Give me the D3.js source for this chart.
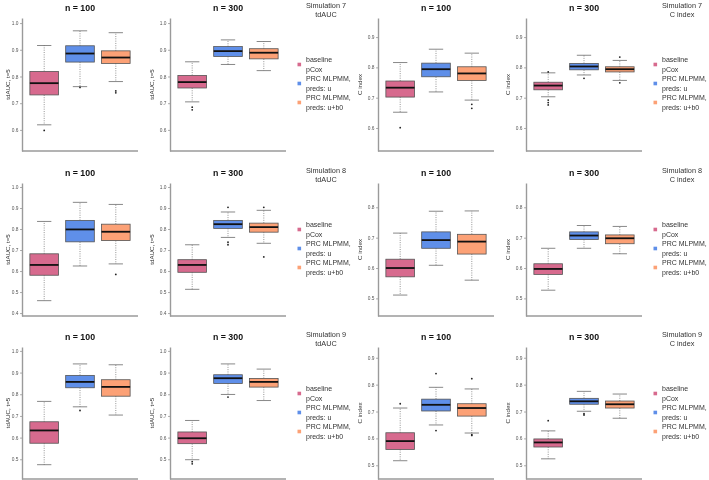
<!DOCTYPE html>
<html><head><meta charset="utf-8">
<script src="https://cdn.jsdelivr.net/npm/d3@7"></script>
<style>body{margin:0;background:#fff}svg{display:block;font-family:"Liberation Sans",Arial,sans-serif;will-change:transform}</style>
</head><body><svg width="709" height="480"></svg>
<script>
// ---------- data ----------
const simulations = ["Simulation 7", "Simulation 8", "Simulation 9"];
const metrics = ["tdAUC", "C index"];
const metricAxisLabels = ["tdAUC, t=5", "C index"];
const sampleSizes = ["n = 100", "n = 300"];
const methods = ["baseline pCox", "PRC MLPMM, preds: u", "PRC MLPMM, preds: u+b0"];
const legendLines = [["baseline", "pCox"], ["PRC MLPMM,", "preds: u"], ["PRC MLPMM,", "preds: u+b0"]];
const colors = ["#D76A8E", "#5F8FE9", "#FCA176"];

// box stats per method: [lower whisker, Q1, median, Q3, upper whisker]
const s7_td_100 = [[0.619, 0.731, 0.775, 0.819, 0.916], [0.762, 0.854, 0.886, 0.915, 0.971], [0.781, 0.849, 0.871, 0.896, 0.964]];
const s7_td_300 = [[0.705, 0.757, 0.779, 0.804, 0.855], [0.845, 0.875, 0.895, 0.912, 0.937], [0.822, 0.866, 0.889, 0.904, 0.931]];
const s7_c_100  = [[0.652, 0.702, 0.733, 0.755, 0.816], [0.719, 0.769, 0.794, 0.814, 0.860], [0.692, 0.757, 0.780, 0.802, 0.847]];
const s7_c_300  = [[0.703, 0.726, 0.740, 0.751, 0.782], [0.775, 0.792, 0.803, 0.813, 0.840], [0.757, 0.785, 0.794, 0.802, 0.823]];
const s8_td_100 = [[0.459, 0.580, 0.629, 0.682, 0.836], [0.624, 0.739, 0.798, 0.841, 0.927], [0.634, 0.745, 0.787, 0.823, 0.917]];
const s8_td_300 = [[0.513, 0.594, 0.629, 0.654, 0.725], [0.760, 0.803, 0.823, 0.841, 0.881], [0.732, 0.785, 0.809, 0.828, 0.889]];
const s8_c_100  = [[0.511, 0.571, 0.600, 0.629, 0.715], [0.609, 0.665, 0.692, 0.719, 0.787], [0.560, 0.646, 0.687, 0.711, 0.788]];
const s8_c_300  = [[0.527, 0.579, 0.597, 0.614, 0.665], [0.665, 0.694, 0.707, 0.719, 0.740], [0.647, 0.680, 0.698, 0.709, 0.737]];
const s9_td_100 = [[0.475, 0.574, 0.633, 0.673, 0.767], [0.742, 0.830, 0.857, 0.887, 0.940], [0.704, 0.791, 0.834, 0.867, 0.936]];
const s9_td_300 = [[0.498, 0.572, 0.597, 0.626, 0.679], [0.799, 0.850, 0.874, 0.890, 0.940], [0.771, 0.833, 0.857, 0.873, 0.916]];
const s9_c_100  = [[0.517, 0.559, 0.590, 0.621, 0.713], [0.650, 0.702, 0.725, 0.746, 0.790], [0.620, 0.683, 0.713, 0.729, 0.784]];
const s9_c_300  = [[0.524, 0.568, 0.585, 0.598, 0.628], [0.701, 0.727, 0.738, 0.749, 0.775], [0.675, 0.713, 0.727, 0.739, 0.765]];

// outliers per method
const o7_td_100 = [[0.598], [0.759], [0.746, 0.739]];
const o7_td_300 = [[0.685, 0.675], [], []];
const o7_c_100  = [[0.601], [], [0.678, 0.665]];
const o7_c_300  = [[0.785, 0.692, 0.684, 0.676], [0.764], [0.834, 0.749]];
const o8_td_100 = [[], [], [0.584]];
const o8_td_300 = [[], [0.903, 0.737, 0.725], [0.903, 0.667]];
const o8_c_100  = [[], [], []];
const o8_c_300  = [[], [], []];
const o9_td_100 = [[], [0.725], []];
const o9_td_300 = [[0.489, 0.479], [0.787], []];
const o9_c_100  = [[0.729], [0.841, 0.629], [0.822, 0.614, 0.611]];
const o9_c_300  = [[0.666], [0.692, 0.687], []];

// y-axis ticks per simulation row and metric
const ticks7_td = [0.6, 0.7, 0.8, 0.9, 1.0];
const ticks7_c  = [0.6, 0.7, 0.8, 0.9];
const ticks8_td = [0.4, 0.5, 0.6, 0.7, 0.8, 0.9, 1.0];
const ticks8_c  = [0.5, 0.6, 0.7, 0.8];
const ticks9_td = [0.5, 0.6, 0.7, 0.8, 0.9, 1.0];
const ticks9_c  = [0.5, 0.6, 0.7, 0.8, 0.9];

// y-axis limits per simulation row and metric
const ylim7_td = [0.521, 1.019], ylim7_c = [0.524, 0.963];
const ylim8_td = [0.386, 1.019], ylim8_c = [0.442, 0.880];
const ylim9_td = [0.409, 1.018], ylim9_c = [0.449, 0.940];

// ---------- assemble ----------
const rows = [
  { stats: [[s7_td_100, s7_td_300], [s7_c_100, s7_c_300]], outs: [[o7_td_100, o7_td_300], [o7_c_100, o7_c_300]], ticks: [ticks7_td, ticks7_c], ylim: [ylim7_td, ylim7_c] },
  { stats: [[s8_td_100, s8_td_300], [s8_c_100, s8_c_300]], outs: [[o8_td_100, o8_td_300], [o8_c_100, o8_c_300]], ticks: [ticks8_td, ticks8_c], ylim: [ylim8_td, ylim8_c] },
  { stats: [[s9_td_100, s9_td_300], [s9_c_100, s9_c_300]], outs: [[o9_td_100, o9_td_300], [o9_c_100, o9_c_300]], ticks: [ticks9_td, ticks9_c], ylim: [ylim9_td, ylim9_c] }
];

const svg = d3.select("svg");
const rowTops = [18, 183, 347];
const rowH = [133, 133, 132];
const panelLefts = [[22, 170], [378, 526]];
const panelW = 116;
const axisCol = "#9a9a9a";

const x = d3.scaleLinear().domain([0.38, 3.62]).range([0, panelW]);
const boxHalf = (x(1.4) - x(1.0)) ; // boxwex 0.8 -> half = 0.4 units

rows.forEach((row, ri) => {
  metrics.forEach((m, mi) => {
    sampleSizes.forEach((ns, si) => {
      const g = svg.append("g").attr("transform", `translate(${panelLefts[mi][si]},${rowTops[ri]})`);
      const h = rowH[ri];
      const y = d3.scaleLinear().domain(row.ylim[mi]).range([h, 0]);

      // axis
      const ax = g.append("g").call(d3.axisLeft(y).tickValues(row.ticks[mi]).tickSize(2).tickSizeOuter(0).tickFormat(d3.format(".1f")));
      ax.select(".domain").attr("stroke", axisCol).attr("stroke-width", 1.4);
      ax.selectAll(".tick line").attr("stroke", "#777").attr("stroke-width", 0.6);
      ax.selectAll(".tick text").attr("fill", "#555").attr("font-size", 4.8).attr("x", -3.5).attr("font-family", "Liberation Sans, Arial, sans-serif");
      g.append("line").attr("x1", 0).attr("x2", panelW).attr("y1", h).attr("y2", h)
        .attr("stroke", axisCol).attr("stroke-width", 1.4);

      // axis title
      const lx = (mi === 0 && si === 0) ? -14.5 : -18;
      g.append("text").attr("transform", `translate(${lx},${h / 2}) rotate(-90)`)
        .attr("text-anchor", "middle").attr("dy", "0.35em")
        .attr("font-size", 6.2).attr("fill", "#333").text(metricAxisLabels[mi]);

      // panel title
      g.append("text").attr("x", panelW / 2).attr("y", -7).attr("text-anchor", "middle")
        .attr("font-size", 8.8).attr("font-weight", "bold").attr("fill", "#111").text(ns);

      // boxes
      const stats = row.stats[mi][si];
      const outs = row.outs[mi][si];
      stats.forEach((s, k) => {
        const cx = x(k + 1);
        const [lo, q1, med, q3, hi] = s;
        const wl = g.append("g");
        wl.append("line").attr("x1", cx).attr("x2", cx).attr("y1", y(q3)).attr("y2", y(hi))
          .attr("stroke", "#666").attr("stroke-width", 0.7).attr("stroke-dasharray", "1,1.3");
        wl.append("line").attr("x1", cx).attr("x2", cx).attr("y1", y(q1)).attr("y2", y(lo))
          .attr("stroke", "#666").attr("stroke-width", 0.7).attr("stroke-dasharray", "1,1.3");
        [lo, hi].forEach(v => {
          wl.append("line").attr("x1", cx - boxHalf / 2).attr("x2", cx + boxHalf / 2)
            .attr("y1", y(v)).attr("y2", y(v)).attr("stroke", "#555").attr("stroke-width", 0.7);
        });
        g.append("rect").attr("x", cx - boxHalf).attr("width", boxHalf * 2)
          .attr("y", y(q3)).attr("height", y(q1) - y(q3))
          .attr("fill", colors[k]).attr("stroke", "#555").attr("stroke-width", 0.8);
        g.append("line").attr("x1", cx - boxHalf).attr("x2", cx + boxHalf)
          .attr("y1", y(med)).attr("y2", y(med)).attr("stroke", "#111").attr("stroke-width", 1.8);
        outs[k].forEach(v => {
          g.append("circle").attr("cx", cx).attr("cy", y(v)).attr("r", 0.9).attr("fill", "#222");
        });
      });

      // legend (right of second panel)
      if (si === 1) {
        const lg = g.append("g").attr("transform", `translate(${panelW},0)`);
        lg.append("text").attr("x", 40).attr("y", -10.5).attr("text-anchor", "middle")
          .attr("font-size", 7.3).attr("fill", "#333").text(simulations[ri]);
        lg.append("text").attr("x", 40).attr("y", -0.8).attr("text-anchor", "middle")
          .attr("font-size", 7.3).attr("fill", "#333").text(m);
        legendLines.forEach((ll, k) => {
          const base = 46.5 + k * 19;
          lg.append("rect").attr("x", 11.5).attr("y", base - 1.8).attr("width", 3.6).attr("height", 3.6)
            .attr("fill", colors[k]);
          ll.forEach((t, j) => {
            lg.append("text").attr("x", 20).attr("y", base - 4.5 + j * 9.3 + 2.4)
              .attr("font-size", 7).attr("fill", "#333").text(t);
          });
        });
      }
    });
  });
});
</script>
</body></html>
